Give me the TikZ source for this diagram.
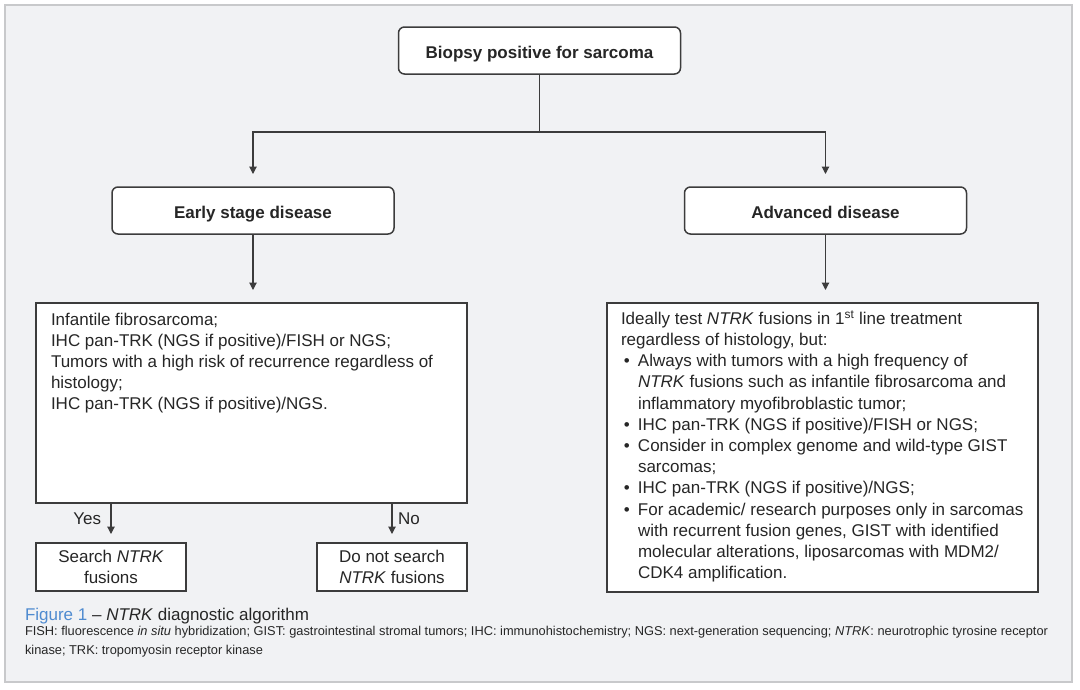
\documentclass[tikz,border=0pt]{standalone}
\usepackage{fontspec}
\setmainfont{Liberation Sans}
\usetikzlibrary{arrows.meta}
\definecolor{bg}{HTML}{F1F2F4}
\definecolor{framec}{HTML}{C8C9CB}
\definecolor{ink}{HTML}{262626}
\definecolor{boxc}{HTML}{3C3C3C}
\definecolor{figblue}{HTML}{4F8BD0}
\begin{document}
\begin{tikzpicture}[x=1pt,y=-1pt,
  every node/.style={inner sep=0pt, outer sep=0pt, text=ink},
  bodyfont/.style={font=\fontsize{17}{21.2}\selectfont},
  rbox/.style={draw=boxc, line width=1.5pt, rounded corners=6pt, fill=white,
    minimum width=282pt, minimum height=47pt, text height=16pt, text depth=0pt,
    font=\fontsize{17}{21.2}\selectfont\bfseries},
  sqbox/.style={draw=boxc, line width=1.5pt, fill=white},
  conn/.style={draw=boxc, line width=1.1pt},
  arr/.style={conn, -{Triangle[width=7.5pt,length=7.5pt]}, shorten >=#1},
  arr/.default=13pt]
\useasboundingbox (0,0) rectangle (1080,689);
\fill[white] (0,0) rectangle (1080,689);
\draw[draw=framec, line width=1.5pt, fill=bg] (5,5) rectangle (1072,682);

% top level boxes
\node[rbox] (biopsy) at (539.5,50.5) {Biopsy positive for sarcoma};
\node[rbox] (early) at (253,210.5) {Early stage disease};
\node[rbox] (advanced) at (825.5,210.5) {Advanced disease};
\coordinate (split) at (539.5,132);
\draw[conn] (biopsy.south) -- (split);
\draw[arr] (split) -| (early.north);
\draw[arr] (split) -| (advanced.north);

% content boxes
\node[sqbox, minimum width=431pt, minimum height=200pt] (leftbox) at (251.5,403) {};
\node[sqbox, minimum width=431pt, minimum height=289pt] (rightbox) at (822.5,447.5) {};
\draw[arr] (early.south) -- (early.south |- leftbox.north);
\draw[arr] (advanced.south) -- (advanced.south |- rightbox.north);

\node[bodyfont, anchor=base west] (lefttext) at (51,325) {%
\begin{tabular}[t]{@{}l@{}}
Infantile fibrosarcoma;\\
IHC pan-TRK (NGS if positive)/FISH or NGS;\\
Tumors with a high risk of recurrence regardless of\\
histology;\\
IHC pan-TRK (NGS if positive)/NGS.
\end{tabular}};

\node[bodyfont, anchor=base west] (righttext) at (621,324.3) {%
\begin{tabular}[t]{@{}l@{}l@{}}
\multicolumn{2}{@{}l@{}}{Ideally test \textit{NTRK} fusions in 1\textsuperscript{st} line treatment}\\
\multicolumn{2}{@{}l@{}}{regardless of histology, but:}\\
\makebox[17pt][l]{\,•}& Always with tumors with a high frequency of\\
 & \textit{NTRK} fusions such as infantile fibrosarcoma and\\
 & inflammatory myofibroblastic tumor;\\
\makebox[17pt][l]{\,•}& IHC pan-TRK (NGS if positive)/FISH or NGS;\\
\makebox[17pt][l]{\,•}& Consider in complex genome and wild-type GIST\\
 & sarcomas;\\
\makebox[17pt][l]{\,•}& IHC pan-TRK (NGS if positive)/NGS;\\
\makebox[17pt][l]{\,•}& For academic/ research purposes only in sarcomas\\
 & with recurrent fusion genes, GIST with identified\\
 & molecular alterations, liposarcomas with MDM2/\\
 & CDK4 amplification.
\end{tabular}};

% outcome boxes
\node[sqbox, minimum width=150pt, minimum height=48pt, align=center,
  font=\fontsize{17}{20.5}\selectfont] (search) at (111,567) {Search \textit{NTRK}\\fusions};
\node[sqbox, minimum width=150pt, minimum height=48pt, align=center,
  font=\fontsize{17}{20.5}\selectfont] (nosearch) at (392,567) {Do not search\\\textit{NTRK} fusions};
\draw[arr=9pt] (search.north |- leftbox.south) -- (search.north);
\draw[arr=9pt] (nosearch.north |- leftbox.south) -- (nosearch.north);
\node[bodyfont, anchor=base east] (yes) at (101,524.3) {Yes};
\node[bodyfont, anchor=base west] (no) at (398,524.3) {No};

% caption
\node[bodyfont, anchor=base west] (figtitle) at (25,620) {\textcolor{figblue}{Figure 1} \textendash\ \textit{NTRK} diagnostic algorithm};
\node[font=\fontsize{12.82}{18}\selectfont, anchor=base west] (fn1) at (25,635.7) {FISH: fluorescence \textit{in situ} hybridization; GIST: gastrointestinal stromal tumors; IHC: immunohistochemistry; NGS: next-generation sequencing; \textit{NTRK}: neurotrophic tyrosine receptor};
\node[font=\fontsize{12.82}{18}\selectfont, anchor=base west] (fn2) at (25,654) {kinase; TRK: tropomyosin receptor kinase};
\end{tikzpicture}
\end{document}
